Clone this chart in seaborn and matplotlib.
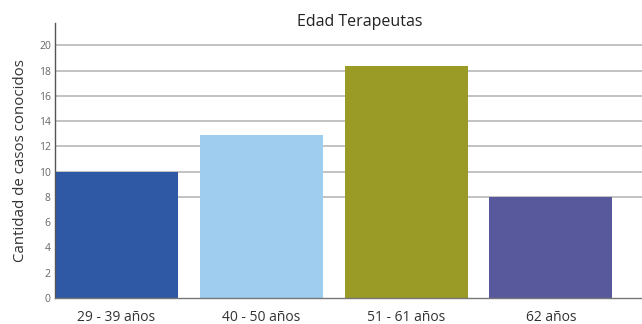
import matplotlib
matplotlib.use('Agg')
import matplotlib.pyplot as plt
import seaborn as sns
import pandas as pd

# ==========================================
# Data
# ==========================================
age_groups = ['29 - 39 años', '40 - 50 años', '51 - 61 años', '62 años']
known_cases = [10, 12.9, 18.4, 8]
bar_colors = ['#2F58A5', '#9FCDEF', '#9A9A27', '#58599D']
y_ticks = [0, 2, 4, 6, 8, 10, 12, 14, 16, 18, 20]

df = pd.DataFrame({'edad': age_groups, 'casos': known_cases})

sns.set_style('white')
plt.rcParams['font.family'] = ['Open Sans', 'DejaVu Sans']

fig = plt.figure(figsize=(6.42, 3.24), dpi=100)
ax = fig.add_axes([0.0857, 0.081, 0.9143, 0.849])

sns.barplot(data=df, x='edad', y='casos', hue='edad', palette=bar_colors,
            legend=False, width=0.85, saturation=1, linewidth=0,
            ax=ax, zorder=2)

# only the upper gridlines are drawn in the original
for y in y_ticks:
    if y >= 8:
        ax.axhline(y, color='#BDBDBD', linewidth=1.3, zorder=1)

ax.set_ylim(0, 21.8)
ax.set_xlim(-0.425, 3.63)
ax.set_yticks(y_ticks)

ax.tick_params(axis='y', length=0, pad=3, labelsize=7.5, labelcolor='#666666')
ax.tick_params(axis='x', length=0, pad=9, labelsize=10, labelcolor='#333333')

for side in ['top', 'right']:
    ax.spines[side].set_visible(False)
ax.spines['left'].set_color('#555555')
ax.spines['left'].set_linewidth(1.0)
ax.spines['bottom'].set_color('#777777')
ax.spines['bottom'].set_linewidth(1.0)

ax.set_xlabel('')
ax.set_ylabel('Cantidad de casos conocidos', fontsize=10.8, color='#333333', labelpad=8)

fig.text(360 / 642, 1 - 22 / 324, 'Edad Terapeutas', ha='center', va='center',
         fontsize=11.5, color='#222222')

plt.savefig('out.png', dpi=100)
plt.close()
